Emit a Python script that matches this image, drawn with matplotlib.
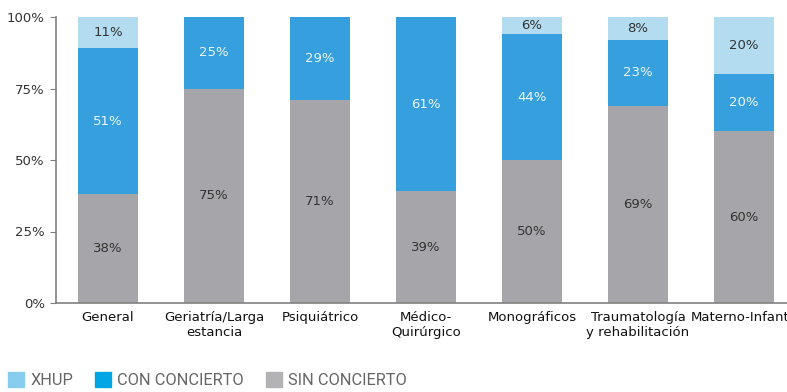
import matplotlib
matplotlib.use("Agg")
import matplotlib.pyplot as plt
from matplotlib.patches import Patch
import numpy as np

categories = ["General", "Geriatría/Larga\nestancia", "Psiquiátrico", "Médico-\nQuirúrgico",
              "Monográficos", "Traumatología\ny rehabilitación", "Materno-Infantil"]
sin_concierto = [38, 75, 71, 39, 50, 69, 60]
con_concierto = [51, 25, 29, 61, 44, 23, 20]
xhup = [11, 0, 0, 0, 6, 8, 20]
yticks = [0, 25, 50, 75, 100]

c_sin = "#a6a6aa"
c_con = "#35a0dd"
c_xhup = "#b3dcf1"

fig = plt.figure(figsize=(7.87, 3.92), dpi=100)
ax = fig.add_axes([56 / 787, 1 - 303 / 392, 741 / 787, 286 / 392])

x = np.arange(len(categories))
w = 0.56
sin = np.array(sin_concierto)
con = np.array(con_concierto)
xh = np.array(xhup)

ax.bar(x, sin, w, color=c_sin, zorder=2)
ax.bar(x, con, w, bottom=sin, color=c_con, zorder=2)
ax.bar(x, xh, w, bottom=sin + con, color=c_xhup, zorder=2)

fs = 9.5
for i in range(len(x)):
    ax.text(x[i], sin[i] / 2, f"{sin[i]}%", ha="center", va="center", fontsize=fs, color="#333333")
    if con[i] > 0:
        ax.text(x[i], sin[i] + con[i] / 2, f"{con[i]}%", ha="center", va="center", fontsize=fs, color="#eef7fc")
    if xh[i] > 0:
        ax.text(x[i], sin[i] + con[i] + xh[i] / 2, f"{xh[i]}%", ha="center", va="center", fontsize=fs, color="#333333")

ax.set_xlim(-0.49, 6.5)
ax.set_ylim(0, 100)
ax.set_yticks(yticks)
ax.set_yticklabels([f"{v}%" for v in yticks], fontsize=fs, color="#333333")
ax.set_xticks(x)
ax.set_xticklabels(categories, fontsize=fs, color="#111111", linespacing=1.15)
ax.tick_params(axis="x", length=0, pad=6)
ax.tick_params(axis="y", length=4, color="#808080", pad=4)
for s in ["top", "right"]:
    ax.spines[s].set_visible(False)
for s in ["left", "bottom"]:
    ax.spines[s].set_color("#808080")
    ax.spines[s].set_linewidth(1.2)

handles = [Patch(color="#87cdf0", label="XHUP"),
           Patch(color="#00a5e4", label="CON CONCIERTO"),
           Patch(color="#b3b3b5", label="SIN CONCIERTO")]
leg = fig.legend(handles=handles, loc="lower left", bbox_to_anchor=(8 / 787, 4 / 392), ncol=3,
                 frameon=False, handlelength=0.98, handleheight=0.98, borderpad=0, borderaxespad=0,
                 handletextpad=0.37, columnspacing=1.34, prop={"family": "Roboto", "size": 11.8})
for t in leg.get_texts():
    t.set_color("#666666")

fig.savefig("out.png", dpi=100)
